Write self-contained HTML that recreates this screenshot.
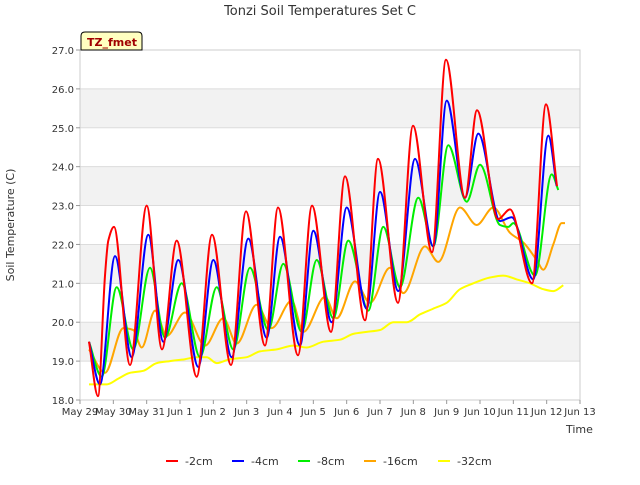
<!DOCTYPE html>
<html><head><meta charset="utf-8"><style>
body{margin:0;background:#fff;font-family:"Liberation Sans",sans-serif}
svg text{font-family:"DejaVu Sans","Liberation Sans",sans-serif}
</style></head><body>
<svg id="c" width="640" height="480" xmlns="http://www.w3.org/2000/svg">
<text x="320" y="15" font-size="13" text-anchor="middle" fill="#333">Tonzi Soil Temperatures Set C</text>
<g id="bands"></g><g id="grid"></g>
<rect x="80" y="50" width="500" height="350" fill="none" stroke="#ccc"/>
<g id="series"></g><g id="axes"></g>
<g>
<path d="M81,50 L81,36 Q81,32 85,32 L138,32 Q142,32 142,36 L142,50 Z" fill="#ffffc0" stroke="#000"/>
<text x="87" y="46" font-size="11" font-weight="bold" fill="#a00000">TZ_fmet</text></g>
<text x="14" y="225" font-size="11" fill="#333" text-anchor="middle" transform="rotate(-90 14 225)">Soil Temperature (C)</text>
<text x="566" y="433" font-size="11" fill="#333">Time</text>
<g id="legend"></g>
</svg>
<script>
const xTicks=["May 29","May 30","May 31","Jun 1","Jun 2","Jun 3","Jun 4","Jun 5","Jun 6","Jun 7","Jun 8","Jun 9","Jun 10","Jun 11","Jun 12","Jun 13"];
const yTicks=[18,19,20,21,22,23,24,25,26,27];
const names=["-2cm","-4cm","-8cm","-16cm","-32cm"];
const colors=["#ff0000","#0000ff","#00ee00","#ffa500","#ffff00"];
const s2=[[0.27,19.5],[0.54,18.1],[0.75,21.2],[0.85,22.1],[1.02,22.45],[1.5,18.9],[2.0,23.0],[2.46,19.3],[2.9,22.1],[3.5,18.6],[3.96,22.25],[4.53,18.9],[4.98,22.85],[5.55,19.4],[5.94,22.95],[6.54,19.15],[6.96,23.0],[7.53,19.75],[7.95,23.75],[8.55,20.05],[8.94,24.2],[9.54,20.5],[9.99,25.05],[10.56,21.8],[10.98,26.75],[11.55,23.2],[11.91,25.45],[12.54,22.65],[12.9,22.9],[13.56,21.0],[13.98,25.6],[14.31,23.5]];
const s4=[[0.27,19.5],[0.6,18.4],[1.05,21.7],[1.55,19.1],[2.05,22.25],[2.5,19.5],[2.95,21.6],[3.55,18.85],[4.0,21.6],[4.55,19.1],[5.05,22.15],[5.6,19.6],[6.0,22.2],[6.6,19.4],[7.0,22.35],[7.55,20.0],[8.0,22.95],[8.6,20.35],[9.0,23.35],[9.55,20.8],[10.05,24.2],[10.6,21.95],[11.0,25.7],[11.55,23.2],[11.95,24.85],[12.6,22.6],[12.95,22.7],[13.6,21.1],[14.05,24.8],[14.3,23.5]];
const s8=[[0.27,19.5],[0.65,18.6],[1.1,20.9],[1.6,19.3],[2.1,21.4],[2.55,19.6],[3.05,21.0],[3.6,19.1],[4.1,20.9],[4.6,19.3],[5.1,21.4],[5.65,19.8],[6.1,21.5],[6.65,19.75],[7.1,21.6],[7.6,20.1],[8.05,22.1],[8.65,20.3],[9.1,22.45],[9.6,20.9],[10.15,23.2],[10.6,21.95],[11.05,24.55],[11.6,23.1],[12.0,24.05],[12.6,22.5],[12.85,22.45],[13.0,22.55],[13.65,21.2],[14.15,23.8],[14.35,23.4]];
const s16=[[0.27,19.3],[0.75,18.7],[1.3,19.85],[1.6,19.8],[1.85,19.35],[2.25,20.3],[2.6,19.65],[3.15,20.25],[3.75,19.4],[4.3,20.1],[4.7,19.45],[5.3,20.45],[5.75,19.85],[6.35,20.55],[6.7,19.75],[7.35,20.65],[7.7,20.1],[8.25,21.05],[8.7,20.5],[9.3,21.4],[9.7,20.75],[10.35,21.95],[10.75,21.55],[11.4,22.95],[11.9,22.5],[12.4,22.95],[12.9,22.3],[13.3,22.05],[13.7,21.6],[13.9,21.35],[14.2,22.0],[14.45,22.55],[14.55,22.55]];
const s32=[[0.27,18.4],[0.8,18.4],[1.15,18.55],[1.5,18.7],[1.9,18.75],[2.3,18.95],[2.7,19.0],[3.15,19.05],[3.5,19.1],[3.8,19.1],[4.1,18.95],[4.5,19.05],[5.0,19.1],[5.4,19.25],[5.9,19.3],[6.4,19.4],[6.8,19.35],[7.3,19.5],[7.8,19.55],[8.2,19.7],[8.6,19.75],[9.0,19.8],[9.4,20.0],[9.8,20.0],[10.2,20.2],[10.6,20.35],[11.0,20.5],[11.4,20.85],[11.8,21.0],[12.3,21.15],[12.7,21.2],[13.1,21.1],[13.5,21.0],[13.9,20.85],[14.2,20.8],[14.5,20.95]];
const seriesData=[s2,s4,s8,s16,s32];
const NS="http://www.w3.org/2000/svg";
const X=d=>80+d*500/15, Y=v=>400-(v-18)*350/9;
function mk(t,a,p){const e=document.createElementNS(NS,t);for(const k in a)e.setAttribute(k,a[k]);document.getElementById(p).appendChild(e);return e;}
function monoPath(pts){const n=pts.length,xs=pts.map(p=>p[0]),ys=pts.map(p=>p[1]);const d=[],m=[];
for(let i=0;i<n-1;i++)d.push((ys[i+1]-ys[i])/(xs[i+1]-xs[i]));
m[0]=d[0];m[n-1]=d[n-2];for(let i=1;i<n-1;i++)m[i]=(d[i-1]*d[i]<=0)?0:(2/(1/d[i-1]+1/d[i]))*1;
let s='M'+xs[0].toFixed(1)+','+ys[0].toFixed(1);
for(let i=0;i<n-1;i++){const h=(xs[i+1]-xs[i])/3;s+=' C'+(xs[i]+h).toFixed(1)+','+(ys[i]+m[i]*h).toFixed(1)+' '+(xs[i+1]-h).toFixed(1)+','+(ys[i+1]-m[i+1]*h).toFixed(1)+' '+xs[i+1].toFixed(1)+','+ys[i+1].toFixed(1);}
return s;}
for(let v=19;v<27;v+=2){const b=mk('rect',{x:80,y:Y(v+1),width:500,height:Y(v)-Y(v+1),fill:'#f2f2f2'},'bands');

}
yTicks.forEach(v=>{const l=mk('line',{x1:80,x2:580,y1:Y(v),y2:Y(v),stroke:'#dcdcdc'},'grid');


const t=mk('text',{x:74,y:Y(v)+4,'font-size':10,'text-anchor':'end',fill:'#333'},'axes');t.textContent=v.toFixed(1);


mk('line',{x1:76,x2:80,y1:Y(v),y2:Y(v),stroke:'#999'},'axes');});
xTicks.forEach((s,i)=>{mk('line',{x1:X(i),x2:X(i),y1:400,y2:404,stroke:'#999'},'axes');
const t=mk('text',{x:X(i),y:415,'font-size':10,'text-anchor':'middle',fill:'#333'},'axes');t.textContent=s;

});
for(let i=4;i>=0;i--){const p=mk('path',{d:monoPath(seriesData[i].map(q=>[X(q[0]),Y(q[1])])),fill:'none',stroke:colors[i],'stroke-width':2,'stroke-linejoin':'round'},'series');

}
const lx=[166,232,298,364,438];
names.forEach((n,i)=>{const g=mk('g',{},'legend');


const l=document.createElementNS(NS,'line');l.setAttribute('x1',lx[i]);l.setAttribute('x2',lx[i]+12);l.setAttribute('y1',461);l.setAttribute('y2',461);l.setAttribute('stroke',colors[i]);l.setAttribute('stroke-width',2);g.appendChild(l);
const t=document.createElementNS(NS,'text');t.setAttribute('x',lx[i]+19);t.setAttribute('y',465);t.setAttribute('font-size',11);t.setAttribute('fill','#333');t.textContent=n;g.appendChild(t);});
</script>
</body></html>
